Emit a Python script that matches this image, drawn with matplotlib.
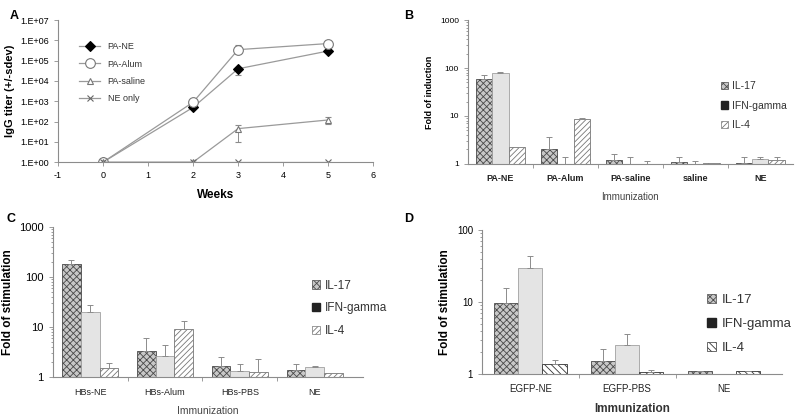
import numpy as np
import matplotlib.pyplot as plt
from matplotlib.patches import Patch

plt.rcParams['font.family'] = ['Liberation Sans', 'DejaVu Sans']
plt.rcParams['hatch.linewidth'] = 0.6
plt.rcParams['axes.unicode_minus'] = False

# ---- panel A data: IgG titer over weeks
weeks = [0, 2, 3, 5]
pa_ne = [1, 500, 4.0e4, 3.0e5]
pa_alum = [1, 900, 3.5e5, 7.0e5]
pa_saline = [1, 1, 45, 120]
ne_only = [1, 1, 1, 1]
pa_ne_lo = [1, 500, 2.0e4, 3.0e5]
pa_ne_hi = [1, 500, 4.0e4, 3.0e5]
pa_alum_lo = [1, 900, 3.5e5, 7.0e5]
pa_alum_hi = [1, 900, 6.0e5, 7.0e5]
pa_saline_lo = [1, 1, 10, 80]
pa_saline_hi = [1, 1, 70, 160]

cytokines = ["IL-17", "IFN-gamma", "IL-4"]

# ---- panel B
b_groups = ["PA-NE", "PA-Alum", "PA-saline", "saline", "NE"]
b_il17 = [60, 2.0, 1.2, 1.1, 1.05]
b_ifn = [78, 1.0, 1.0, 1.0, 1.25]
b_il4 = [2.2, 8.8, 1.0, 1.05, 1.2]
b_il17_top = [72, 3.6, 1.6, 1.4, 1.4]
b_ifn_top = [82, 1.4, 1.4, 1.15, 1.4]
b_il4_top = [2.2, 9.0, 1.15, 1.05, 1.4]

# ---- panel C
c_groups = ["HBs-NE", "HBs-Alum", "HBs-PBS", "NE"]
c_il17 = [185, 3.3, 1.7, 1.4]
c_ifn = [20, 2.7, 1.3, 1.6]
c_il4 = [1.5, 9.3, 1.25, 1.2]
c_il17_top = [215, 6.0, 2.5, 1.85]
c_ifn_top = [28, 4.3, 1.85, 1.65]
c_il4_top = [1.9, 13.5, 2.3, 1.2]

# ---- panel D
d_groups = ["EGFP-NE", "EGFP-PBS", "NE"]
d_il17 = [9.7, 1.5, 1.12]
d_ifn = [30, 2.5, 1.02]
d_il4 = [1.4, 1.07, 1.1]
d_il17_top = [15.5, 2.25, 1.12]
d_ifn_top = [44, 3.6, 1.02]
d_il4_top = [1.55, 1.15, 1.1]

GRAY = '#8c8c8c'


def style_axes(ax):
    for s in ['top', 'right']:
        ax.spines[s].set_visible(False)
    for s in ['left', 'bottom']:
        ax.spines[s].set_color(GRAY)
        ax.spines[s].set_linewidth(0.8)
    ax.tick_params(which='both', color=GRAY, width=0.6)
    ax.tick_params(which='major', length=3)
    ax.tick_params(which='minor', length=1.5)


def bar_panel(ax, groups, vals, tops, il4_hatch, il4_color, xmax, tick_fs, cat_fs, cat_bold):
    x = np.arange(len(groups))
    w = 0.25
    styles = [
        dict(facecolor='#c8c8c8', edgecolor='#4a4a4a', hatch='xxxxx'),
        dict(facecolor='#e4e4e4', edgecolor='#a0a0a0'),
        dict(facecolor='white', edgecolor=il4_color, hatch=il4_hatch),
    ]
    for i in range(3):
        v = np.array(vals[i])
        up = np.array(tops[i]) - v
        ax.bar(x + (i - 1) * w, v - 1, w, bottom=1, linewidth=0.6, **styles[i])
        ax.errorbar(x + (i - 1) * w, v, yerr=[np.zeros_like(up), up], fmt='none',
                    ecolor=GRAY, elinewidth=0.7, capsize=2.5, capthick=0.7)
    ax.set_yscale('log')
    ax.set_xlim(-0.5, xmax)
    ax.set_xticks(np.arange(len(groups) - 1) + 0.5)
    ax.set_xticklabels([])
    ax.tick_params(axis='x', which='both', length=2)
    for xi, g in zip(x, groups):
        ax.text(xi, -0.07, g, transform=ax.get_xaxis_transform(), ha='center', va='top',
                fontsize=cat_fs, fontweight='bold' if cat_bold else 'normal', color='#222222')
    ax.tick_params(axis='y', labelsize=tick_fs)
    ax.yaxis.set_major_formatter(plt.FuncFormatter(lambda v, p: '%g' % v))
    style_axes(ax)


def bar_legend(ax, il4_hatch, il4_color, fs, loc):
    handles = [
        Patch(facecolor='#c8c8c8', edgecolor='#4a4a4a', hatch='xxxxx', linewidth=0.5),
        Patch(facecolor='#222222', edgecolor='#222222'),
        Patch(facecolor='white', edgecolor=il4_color, hatch=il4_hatch, linewidth=0.5),
    ]
    ax.legend(handles, cytokines, frameon=False, fontsize=fs, handlelength=0.7,
              handleheight=0.7, handletextpad=0.4, labelspacing=0.9,
              loc='upper left', bbox_to_anchor=loc, labelcolor='#333333')


fig = plt.figure(figsize=(8, 4.19), dpi=100)

# ---- Panel A
axA = fig.add_axes([0.0725, 0.613, 0.394, 0.339])
series = [
    ("PA-NE", pa_ne, pa_ne_lo, pa_ne_hi, dict(marker='D', ms=5, mfc='black', mec='black')),
    ("PA-Alum", pa_alum, pa_alum_lo, pa_alum_hi, dict(marker='o', ms=7, mfc='white', mec='#777777')),
    ("PA-saline", pa_saline, pa_saline_lo, pa_saline_hi, dict(marker='^', ms=5, mfc='white', mec='#777777')),
    ("NE only", ne_only, ne_only, ne_only, dict(marker='x', ms=4, mec='#666666')),
]
for name, v, lo, hi, mk in series:
    v = np.array(v, float)
    yerr = [v - np.array(lo, float), np.array(hi, float) - v]
    axA.errorbar(weeks, v, yerr=yerr, color='#9a9a9a', lw=0.9, ecolor=GRAY,
                 elinewidth=0.7, capsize=2.5, label=name, mew=0.8, **mk)
axA.set_yscale('log')
axA.set_ylim(1, 1e7)
axA.set_xlim(-1, 6)
axA.set_xticks(range(-1, 7))
axA.set_yticks([10.0 ** k for k in range(8)])
axA.set_yticklabels(['1.E+%02d' % k for k in range(8)])
axA.minorticks_off()
axA.tick_params(labelsize=6.5)
axA.set_xlabel('Weeks', fontsize=8.5, fontweight='bold', labelpad=6)
axA.set_ylabel('IgG titer (+/-sdev)', fontsize=8, fontweight='bold')
style_axes(axA)
hA, lA = axA.get_legend_handles_labels()
axA.legend([h[0] for h in hA], lA, frameon=False, fontsize=6.5, loc='upper left',
           bbox_to_anchor=(0.04, 0.9), labelspacing=0.9, handlelength=2.4,
           labelcolor='#333333')
fig.text(0.012, 0.955, 'A', fontsize=9, fontweight='bold')

# ---- Panel B
axB = fig.add_axes([0.585, 0.609, 0.406, 0.343])
bar_panel(axB, b_groups, [b_il17, b_ifn, b_il4], [b_il17_top, b_ifn_top, b_il4_top],
          '//////', '#777777', 4.5, 6, 6.5, True)
axB.set_ylim(1, 1000)
axB.set_ylabel('Fold of induction', fontsize=6.5, fontweight='bold')
axB.set_xlabel('Immunization', fontsize=7, color='#444444', labelpad=14)
bar_legend(axB, '//////', '#777777', 7.5, (0.75, 0.64))
fig.text(0.505, 0.955, 'B', fontsize=9, fontweight='bold')

# ---- Panel C
axC = fig.add_axes([0.066, 0.100, 0.388, 0.358])
bar_panel(axC, c_groups, [c_il17, c_ifn, c_il4], [c_il17_top, c_ifn_top, c_il4_top],
          '//////', '#777777', 3.65, 8, 6.5, False)
axC.set_ylim(1, 1000)
axC.set_ylabel('Fold of stimulation', fontsize=8.5, fontweight='bold')
axC.set_xlabel('Immunization', fontsize=7.5, color='#444444', labelpad=14)
bar_legend(axC, '//////', '#777777', 8.5, (0.8, 0.72))
fig.text(0.008, 0.47, 'C', fontsize=9, fontweight='bold')

# ---- Panel D
axD = fig.add_axes([0.6025, 0.107, 0.375, 0.344])
bar_panel(axD, d_groups, [d_il17, d_ifn, d_il4], [d_il17_top, d_ifn_top, d_il4_top],
          '\\\\\\\\\\', '#333333', 2.6, 7, 7, False)
axD.set_ylim(1, 100)
axD.set_ylabel('Fold of stimulation', fontsize=8.5, fontweight='bold')
axD.set_xlabel('Immunization', fontsize=8.5, fontweight='bold', color='#333333', labelpad=14)
bar_legend(axD, '\\\\\\\\\\', '#333333', 9.5, (0.71, 0.64))
fig.text(0.505, 0.47, 'D', fontsize=9, fontweight='bold')

fig.savefig('out.png', dpi=100)
